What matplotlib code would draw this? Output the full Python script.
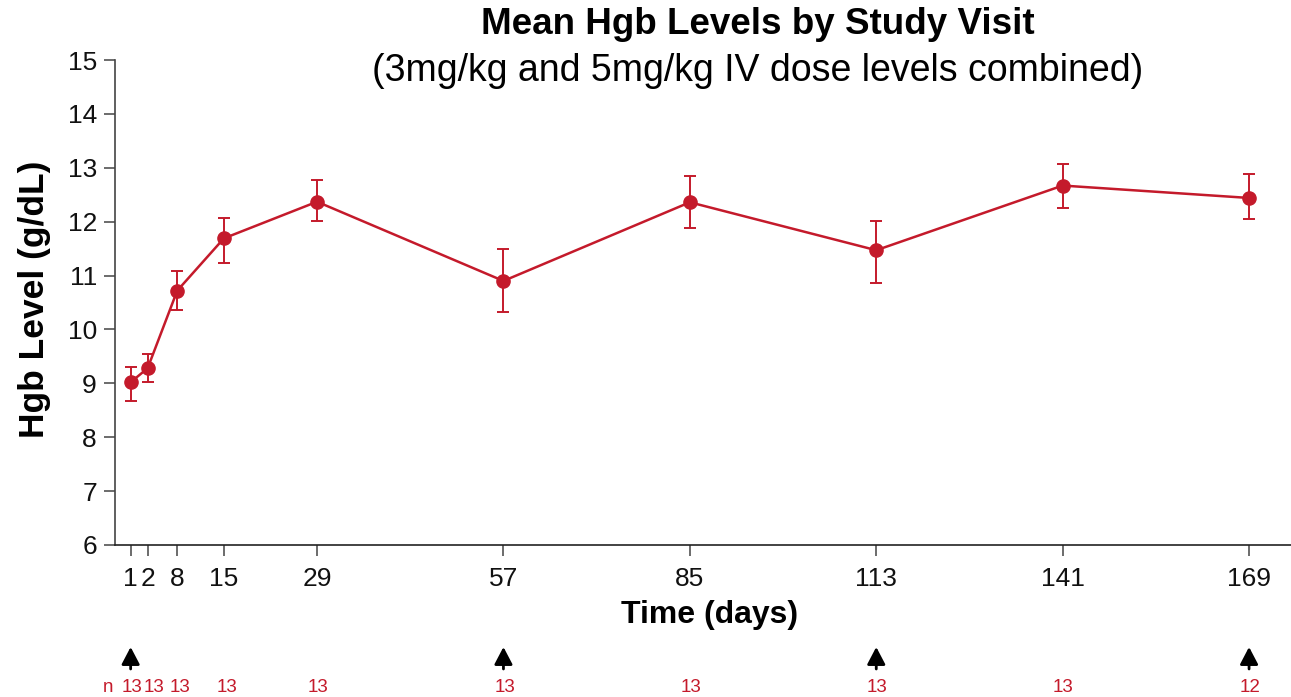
import matplotlib
matplotlib.use("Agg")
import matplotlib.pyplot as plt
import matplotlib.transforms as mtransforms

plt.rcParams['font.family'] = ['Liberation Sans', 'DejaVu Sans']

# ---- data ----
visit_days = [1, 2, 8, 15, 29, 57, 85, 113, 141, 169]
visit_labels = ["1", "2", "8", "15", "29", "57", "85", "113", "141", "169"]
# plotting position on the time axis (day 2 drawn slightly offset in the original)
visit_pos = [1, 3.55, 8, 15, 29, 57, 85, 113, 141, 169]
hgb_mean = [9.02, 9.28, 10.72, 11.69, 12.37, 10.90, 12.36, 11.47, 12.67, 12.44]
hgb_low = [8.67, 9.02, 10.37, 11.24, 12.02, 10.32, 11.88, 10.86, 12.26, 12.05]
hgb_high = [9.30, 9.55, 11.08, 12.07, 12.77, 11.49, 12.85, 12.02, 13.07, 12.88]
n_counts = ["13", "13", "13", "13", "13", "13", "13", "13", "13", "12"]
# where the n labels sit along the time axis (spread apart at the crowded start)
n_label_pos = [1.27, 4.5, 8.45, 15.45, 29.15, 57.25, 85.1, 113.1, 141.1, 169.1]
dose_days = [1, 57, 113, 169]
y_ticks = list(range(6, 16))

RED = '#C41A2B'
W, H = 1291, 697
fig = plt.figure(figsize=(W / 100, H / 100), dpi=100)
ax = fig.add_axes([115 / W, 1 - 545 / H, (W - 115) / W, (545 - 60) / H])

yerr = [[m - lo for m, lo in zip(hgb_mean, hgb_low)],
        [hi - m for m, hi in zip(hgb_mean, hgb_high)]]
ax.errorbar(visit_pos, hgb_mean, yerr=yerr, color=RED, lw=1.8, marker='o',
            markersize=9.5, elinewidth=1.4, capsize=4.5, capthick=1.4, zorder=3)

ax.set_xlim(-1.35, 175.3)
ax.set_ylim(6, 15)
ax.set_yticks(y_ticks)
ax.set_xticks(visit_pos)
ax.set_xticklabels(visit_labels)
ax.tick_params(axis='both', direction='out', length=8, width=1.1,
               color='#444444', labelsize=19, labelcolor='#111111')
ax.tick_params(axis='y', pad=5)
ax.tick_params(axis='x', pad=8)
for s in ['top', 'right']:
    ax.spines[s].set_visible(False)
ax.spines['left'].set_color('#444444')
ax.spines['bottom'].set_color('#222222')
ax.spines['left'].set_linewidth(1.2)
ax.spines['bottom'].set_linewidth(1.2)

ax.set_xlabel("Time (days)", fontsize=23, fontweight='bold', va='center')
ax.xaxis.set_label_coords((710 - 115) / (W - 115), -(615 - 545) / 485)
ax.set_ylabel("Hgb Level (g/dL)", fontsize=25.5, fontweight='bold', va='center')
ax.yaxis.set_label_coords(-(115 - 34) / (W - 115), (545 - 299) / 485)

fig.text(757.5 / W, 1 - 25 / H, "Mean Hgb Levels by Study Visit", ha='center',
         va='center', fontsize=26.5, fontweight='bold')
fig.text(757.5 / W, 1 - 71 / H, "(3mg/kg and 5mg/kg IV dose levels combined)",
         ha='center', va='center', fontsize=27)

# n row and dose arrows
trans = mtransforms.blended_transform_factory(ax.transData, fig.transFigure)
for p, n in zip(n_label_pos, n_counts):
    ax.text(p, 1 - 688 / H, n, transform=trans, ha='center', va='center',
            fontsize=13.5, color=RED, clip_on=False)
fig.text(108 / W, 1 - 688 / H, "n", ha='center', va='center', fontsize=13.5, color=RED)
for d in dose_days:
    ax.annotate("", xy=(d, 1 - 647 / H), xytext=(d, 1 - 669 / H),
                xycoords=trans, textcoords=trans, annotation_clip=False,
                arrowprops=dict(arrowstyle='-|>,head_length=1.05,head_width=0.55',
                                color='black', lw=2, shrinkA=0, shrinkB=0))

fig.savefig("out.png", dpi=100)
